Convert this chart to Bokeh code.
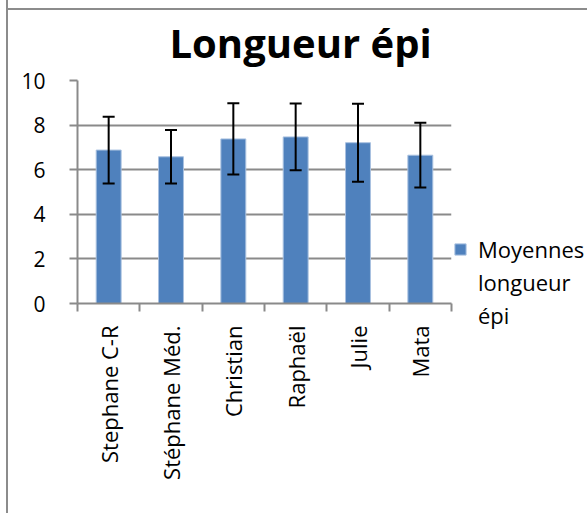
import math
from bokeh.plotting import figure
from bokeh.models import (ColumnDataSource, Whisker, TeeHead, FixedTicker, Range1d,
                          Legend, LegendItem, Title)
from bokeh.embed import file_html
from bokeh.resources import INLINE

names = ["Stephane C-R", "Stéphane Méd.", "Christian", "Raphaël", "Julie", "Mata"]
means = [6.88, 6.58, 7.38, 7.47, 7.21, 6.65]
errors = [1.5, 1.2, 1.6, 1.5, 1.75, 1.45]
y_ticks = [0, 2, 4, 6, 8, 10]
title_text = "Longueur épi"
legend_lines = ["Moyennes", "longueur", "épi"]

FONT = "Open Sans"
GRID = "#8a8a8a"
FRAME_COLOR = "#8c8c8c"

xpos = [i + 0.5 for i in range(len(names))]
src = ColumnDataSource(dict(
    x=xpos, top=means,
    upper=[m + e for m, e in zip(means, errors)],
    lower=[m - e for m, e in zip(means, errors)],
))

p = figure(frame_width=374, frame_height=223,
           min_border_left=69, min_border_right=137,
           min_border_top=80, min_border_bottom=210,
           x_range=Range1d(0, len(names)), y_range=Range1d(0, 10),
           output_backend="svg", toolbar_location=None, title=None)
# chart-area border: left edge as CSS border, top edge as a thin background stripe
p.styles = {
    "margin-left": "6px",
    "border-left": f"2px solid {FRAME_COLOR}",
    "background-color": "white",
    "background-image": f"linear-gradient({FRAME_COLOR}, {FRAME_COLOR})",
    "background-size": "100% 2px",
    "background-position": "0 8px",
    "background-repeat": "no-repeat",
}
p.background_fill_color = "white"
p.border_fill_color = None
p.outline_line_color = None

bars = p.vbar(x="x", top="top", width=0.4, source=src,
              fill_color="#4F81BD", line_color="#a9c1e0", line_width=1)

w = Whisker(base="x", upper="upper", lower="lower", source=src, level="overlay",
            line_color="black", line_width=2,
            upper_head=TeeHead(size=12, line_color="black", line_width=2),
            lower_head=TeeHead(size=12, line_color="black", line_width=2))
p.add_layout(w)

# Y axis
p.yaxis.ticker = FixedTicker(ticks=y_ticks)
p.yaxis.axis_line_color = GRID
p.yaxis.axis_line_width = 2
p.yaxis.major_tick_line_color = GRID
p.yaxis.major_tick_line_width = 2
p.yaxis.major_tick_out = 8
p.yaxis.major_tick_in = 0
p.yaxis.minor_tick_line_color = None
p.yaxis.major_label_text_font = FONT
p.yaxis.major_label_text_font_size = "21px"
p.yaxis.major_label_text_color = "black"
p.yaxis.major_label_standoff = 24

p.ygrid.ticker = FixedTicker(ticks=y_ticks)
p.ygrid.grid_line_color = GRID
p.ygrid.grid_line_width = 2
p.xgrid.grid_line_color = None

# X axis: labels at centers, ticks at boundaries
p.xaxis.ticker = FixedTicker(ticks=xpos, minor_ticks=list(range(len(names) + 1)))
p.xaxis.major_label_overrides = {x: n for x, n in zip(xpos, names)}
p.xaxis.major_label_orientation = math.pi / 2
p.xaxis.major_tick_line_color = None
p.xaxis.major_tick_out = 0
p.xaxis.major_tick_in = 0
p.xaxis.minor_tick_line_color = GRID
p.xaxis.minor_tick_line_width = 2
p.xaxis.minor_tick_out = 8
p.xaxis.minor_tick_in = 0
p.xaxis.axis_line_color = GRID
p.xaxis.axis_line_width = 2
p.xaxis.major_label_text_font = FONT
p.xaxis.major_label_text_font_size = "22px"
p.xaxis.major_label_text_color = "black"
p.xaxis.major_label_standoff = 14

# Title
t = Title(text=title_text, align="left", offset=92, text_font=FONT,
          text_font_size="40px", text_font_style="bold", text_color="black",
          standoff=22)
p.add_layout(t, "above")

# Legend (manual multi-line)
dummy = p.vbar(x=[0.5], top=[0], width=0.0, fill_alpha=0, line_alpha=0)
items = [LegendItem(label=legend_lines[0], renderers=[bars])]
for ln in legend_lines[1:]:
    items.append(LegendItem(label=ln, renderers=[dummy]))
leg = Legend(items=items, location=(2, -28), padding=0, margin=0, spacing=0,
             glyph_width=14, glyph_height=14, label_height=33, label_standoff=11,
             label_text_font=FONT, label_text_font_size="22px",
             label_text_color="black",
             background_fill_alpha=0, border_line_color=None)
p.add_layout(leg, "right")

open("out.html", "w").write(file_html(p, INLINE))
